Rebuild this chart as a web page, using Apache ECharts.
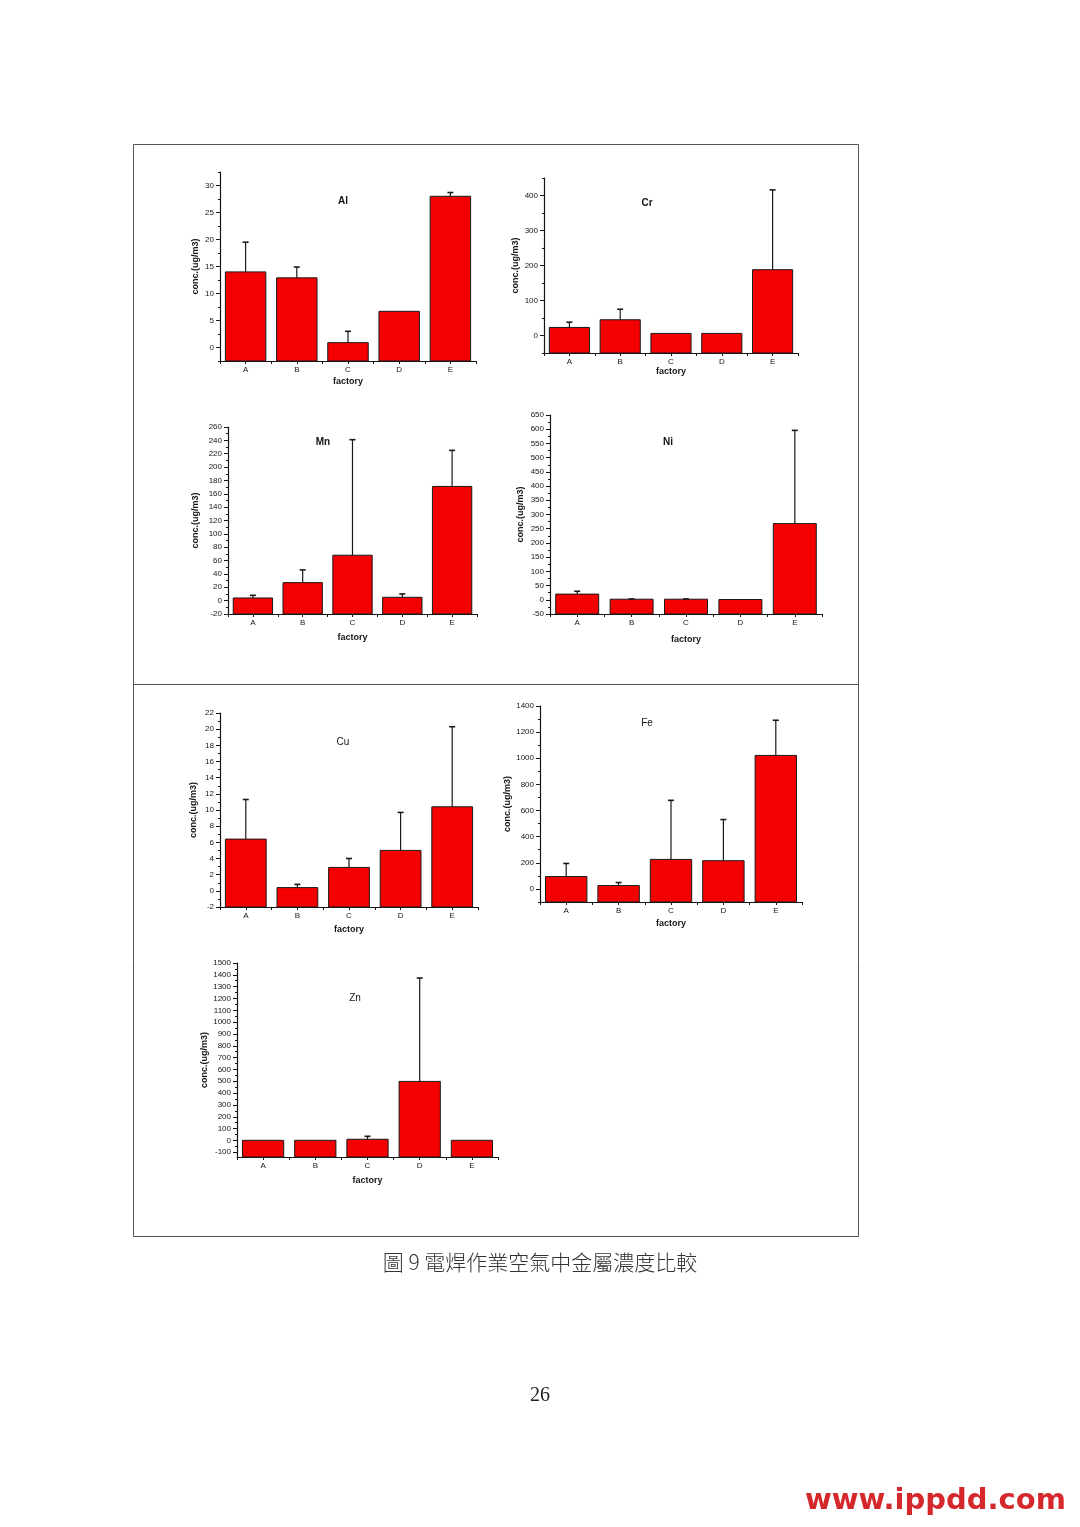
<!DOCTYPE html>
<html>
<head>
<meta charset="utf-8">
<script src="https://cdn.jsdelivr.net/npm/echarts@6/dist/echarts.min.js"></script>
<style>
html,body{margin:0;padding:0;background:#fff;}
#main{width:1080px;height:1527px;}
</style>
</head>
<body>
<div id="main"></div>
<script>
// ---------------- DATA ----------------
const categories = ['A', 'B', 'C', 'D', 'E'];

const alMean = [14.0, 12.9, 0.9, 6.7, 28.0];
const alSd   = [5.5, 2.0, 2.1, 0, 0.7];
const alTicks = [0, 5, 10, 15, 20, 25, 30];
const alMinor = [-2.5, 2.5, 7.5, 12.5, 17.5, 22.5, 27.5, 32.5];

const crMean = [23, 45, 6, 6, 188];
const crSd   = [15, 30, 0, 0, 228];
const crTicks = [0, 100, 200, 300, 400];
const crMinor = [-50, 50, 150, 250, 350, 450];

const mnMean = [4, 27, 68, 5, 171];
const mnSd   = [4, 19, 173, 5, 54];
const mnTicks = [-20, 0, 20, 40, 60, 80, 100, 120, 140, 160, 180, 200, 220, 240, 260];
const mnMinor = [-10, 10, 30, 50, 70, 90, 110, 130, 150, 170, 190, 210, 230, 250];

const niMean = [20, 2, 2, 1, 268];
const niSd   = [10, 1, 1, 0, 328];
const niTicks = [-50, 0, 50, 100, 150, 200, 250, 300, 350, 400, 450, 500, 550, 600, 650];
const niMinor = [-25, 25, 75, 125, 175, 225, 275, 325, 375, 425, 475, 525, 575, 625];

const cuMean = [6.4, 0.4, 2.9, 5.0, 10.4];
const cuSd   = [4.9, 0.4, 1.1, 4.7, 9.9];
const cuTicks = [-2, 0, 2, 4, 6, 8, 10, 12, 14, 16, 18, 20, 22];
const cuMinor = [-1, 1, 3, 5, 7, 9, 11, 13, 15, 17, 19, 21];

const feMean = [95, 26, 226, 216, 1022];
const feSd   = [100, 23, 452, 315, 269];
const feTicks = [0, 200, 400, 600, 800, 1000, 1200, 1400];
const feMinor = [-100, 100, 300, 500, 700, 900, 1100, 1300];

const znMean = [1, 1, 10, 499, 1];
const znSd   = [0, 0, 25, 874, 0];
const znTicks = [-100, 0, 100, 200, 300, 400, 500, 600, 700, 800, 900, 1000, 1100, 1200, 1300, 1400, 1500];
const znMinor = [-50, 50, 150, 250, 350, 450, 550, 650, 750, 850, 950, 1050, 1150, 1250, 1350, 1450];

const panelTitles = ['Al', 'Cr', 'Mn', 'Ni', 'Cu', 'Fe', 'Zn'];
const yAxisName = 'conc.(ug/m3)';
const xAxisName = 'factory';
const captionText = '圖 9 電焊作業空氣中金屬濃度比較';
const pageNumber = '26';
const watermarkText = 'www.ippdd.com';

// ---------------- LAYOUT ----------------
const panels = [
  {title: panelTitles[0], mean: alMean, sd: alSd, ticks: alTicks, minor: alMinor, min: -2.5, max: 32.5,
   grid: {left: 220, top: 172, width: 256, height: 189}, tpos: [343, 201], tBold: true, yGap: 20, xGap: 16},
  {title: panelTitles[1], mean: crMean, sd: crSd, ticks: crTicks, minor: crMinor, min: -50, max: 450,
   grid: {left: 544, top: 178, width: 254, height: 175}, tpos: [647, 203], tBold: true, yGap: 24, xGap: 13},
  {title: panelTitles[2], mean: mnMean, sd: mnSd, ticks: mnTicks, minor: mnMinor, min: -20, max: 260,
   grid: {left: 228, top: 427, width: 249, height: 187}, tpos: [323, 442], tBold: true, yGap: 28, xGap: 19},
  {title: panelTitles[3], mean: niMean, sd: niSd, ticks: niTicks, minor: niMinor, min: -50, max: 650,
   grid: {left: 550, top: 415, width: 272, height: 199}, tpos: [668, 442], tBold: true, yGap: 25, xGap: 21},
  {title: panelTitles[4], mean: cuMean, sd: cuSd, ticks: cuTicks, minor: cuMinor, min: -2, max: 22,
   grid: {left: 220, top: 713, width: 258, height: 194}, tpos: [343, 742], tBold: false, yGap: 22, xGap: 18},
  {title: panelTitles[5], mean: feMean, sd: feSd, ticks: feTicks, minor: feMinor, min: -100, max: 1400,
   grid: {left: 540, top: 706, width: 262, height: 196}, tpos: [647, 723], tBold: false, yGap: 27, xGap: 17},
  {title: panelTitles[6], mean: znMean, sd: znSd, ticks: znTicks, minor: znMinor, min: -140, max: 1500,
   grid: {left: 237, top: 963, width: 261, height: 194}, tpos: [355, 998], tBold: false, yGap: 27, xGap: 19}
];

const FONT = 'Liberation Sans';
const INK = '#151515';

function makeRender(yMin) {
  return function (params, api) {
    const i = api.value(0), v = api.value(1), sd = api.value(2);
    const top = api.coord([i, v]);
    const base = api.coord([i, yMin]);
    const bw = api.size([1, 0])[0] * 0.79;
    const children = [{
      type: 'rect',
      shape: {x: top[0] - bw / 2, y: top[1], width: bw, height: base[1] - top[1]},
      style: {fill: '#f50000', stroke: '#1a1a1a', lineWidth: 1}
    }];
    if (sd > 0) {
      const e = api.coord([i, v + sd]);
      children.push({type: 'line', shape: {x1: top[0], y1: top[1], x2: top[0], y2: e[1]},
        style: {stroke: '#1a1a1a', lineWidth: 1.2}});
      children.push({type: 'line', shape: {x1: top[0] - 3, y1: e[1], x2: top[0] + 3, y2: e[1]},
        style: {stroke: '#1a1a1a', lineWidth: 1.6}});
    }
    return {type: 'group', children: children};
  };
}

const grid = [], xAxis = [], yAxis = [], series = [], graphic = [];

panels.forEach((p, k) => {
  grid.push(Object.assign({outerBoundsMode: 'none', containLabel: false}, p.grid));
  // main x axis: labels + ticks at category centres
  xAxis.push({
    type: 'category', gridIndex: k, data: categories, boundaryGap: true, position: 'bottom',
    axisLine: {show: true, onZero: false, lineStyle: {color: INK, width: 1.2}},
    axisTick: {show: true, alignWithLabel: true, length: 3, lineStyle: {color: INK, width: 1}},
    axisLabel: {show: true, color: INK, fontSize: 8, fontFamily: FONT, margin: 5},
    splitLine: {show: false},
    name: xAxisName, nameLocation: 'middle', nameGap: p.xGap,
    nameTextStyle: {color: INK, fontSize: 9, fontWeight: 'bold', fontFamily: FONT}
  });
  // secondary x axis: ticks at category boundaries
  xAxis.push({
    type: 'category', gridIndex: k, data: categories, boundaryGap: true, position: 'bottom', offset: 0,
    axisLine: {show: false, onZero: false},
    axisTick: {show: true, alignWithLabel: false, length: 3, lineStyle: {color: INK, width: 1}},
    axisLabel: {show: false}, splitLine: {show: false}
  });
  yAxis.push({
    type: 'value', gridIndex: k, min: p.min, max: p.max, position: 'left',
    axisLine: {show: true, onZero: false, lineStyle: {color: INK, width: 1.2}},
    axisTick: {show: true, inside: false, length: 4, customValues: p.ticks, lineStyle: {color: INK, width: 1}},
    axisLabel: {show: true, customValues: p.ticks, color: INK, fontSize: 8, fontFamily: FONT, margin: 6,
      formatter: v => String(v)},
    splitLine: {show: false},
    name: yAxisName, nameLocation: 'middle', nameGap: p.yGap, nameRotate: 90,
    nameTextStyle: {color: INK, fontSize: 9, fontWeight: 'bold', fontFamily: FONT}
  });
  yAxis.push({
    type: 'value', gridIndex: k, min: p.min, max: p.max, position: 'left', offset: 0,
    axisLine: {show: false, onZero: false},
    axisTick: {show: true, inside: false, length: 2, customValues: p.minor, lineStyle: {color: INK, width: 1}},
    axisLabel: {show: false, customValues: p.minor},
    splitLine: {show: false}
  });
  series.push({
    type: 'custom', name: p.title, coordinateSystem: 'cartesian2d',
    xAxisIndex: 2 * k, yAxisIndex: 2 * k,
    renderItem: makeRender(p.min),
    encode: {x: 0, y: 1},
    data: p.mean.map((m, i) => [i, m, p.sd[i]]),
    silent: true, animation: false
  });
  graphic.push({
    type: 'text', x: p.tpos[0], y: p.tpos[1],
    style: {text: p.title, fill: INK, font: (p.tBold ? 'bold ' : '') + '10px "' + FONT + '"',
      textAlign: 'center', textVerticalAlign: 'middle'}
  });
});

// frames
graphic.push({type: 'rect', shape: {x: 133.5, y: 144.5, width: 725, height: 540},
  style: {fill: 'none', stroke: '#555', lineWidth: 1}});
graphic.push({type: 'rect', shape: {x: 133.5, y: 684.5, width: 725, height: 552},
  style: {fill: 'none', stroke: '#555', lineWidth: 1}});
// caption
graphic.push({type: 'text', x: 540, y: 1262,
  style: {text: captionText, fill: '#333', font: '300 21px "Noto Sans CJK TC"',
    textAlign: 'center', textVerticalAlign: 'middle'}});
graphic.push({type: 'text', x: 540, y: 1396,
  style: {text: pageNumber, fill: '#222', font: '20px "Liberation Serif"',
    textAlign: 'center', textVerticalAlign: 'middle'}});
graphic.push({type: 'text', x: 805, y: 1501,
  style: {text: watermarkText, fill: '#d5282d', font: 'bold 29px "DejaVu Sans"',
    textAlign: 'left', textVerticalAlign: 'middle'}});

const chart = echarts.init(document.getElementById('main'), null, {renderer: 'canvas'});
chart.setOption({
  backgroundColor: '#ffffff',
  animation: false,
  grid: grid, xAxis: xAxis, yAxis: yAxis, series: series, graphic: graphic
});
</script>
</body>
</html>
